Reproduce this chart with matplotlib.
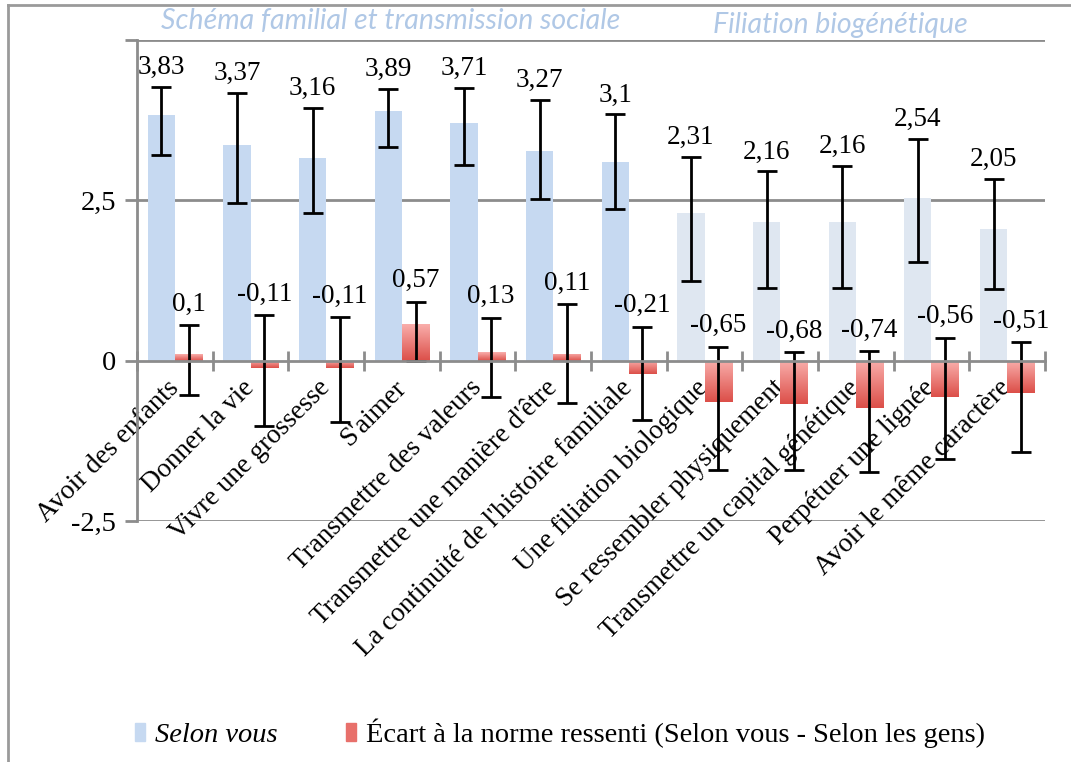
import numpy as np
import matplotlib
matplotlib.use("Agg")
import matplotlib.pyplot as plt
from matplotlib.lines import Line2D
from matplotlib.patches import Patch
from matplotlib.colors import LinearSegmentedColormap

# data
categories = ["Avoir des enfants", "Donner la vie", "Vivre une grossesse", "S'aimer",
              "Transmettre des valeurs", "Transmettre une manière d'être",
              "La continuité de l'histoire familiale", "Une filiation biologique",
              "Se ressembler physiquement", "Transmettre un capital génétique",
              "Perpétuer une lignée", "Avoir le même caractère"]
groups = ["social"] * 7 + ["bio"] * 5

selon_vous = [3.83, 3.37, 3.16, 3.89, 3.71, 3.27, 3.1, 2.31, 2.16, 2.16, 2.54, 2.05]
selon_hi = [4.27, 4.17, 3.94, 4.24, 4.25, 4.06, 3.84, 3.18, 2.95, 3.04, 3.46, 2.84]
selon_lo = [3.21, 2.46, 2.30, 3.33, 3.05, 2.52, 2.37, 1.24, 1.14, 1.14, 1.54, 1.12]

ecart = [0.1, -0.11, -0.11, 0.57, 0.13, 0.11, -0.21, -0.65, -0.68, -0.74, -0.56, -0.51]
ecart_hi = [0.56, 0.71, 0.68, 0.92, 0.67, 0.88, 0.53, 0.22, 0.13, 0.15, 0.36, 0.29]
ecart_lo = [-0.53, -1.02, -0.96, 0.0, -0.56, -0.66, -0.93, -1.71, -1.70, -1.74, -1.54, -1.43]

group_titles = ["Schéma familial et transmission sociale", "Filiation biogénétique"]
legend_labels = ["Selon vous", "Écart à la norme ressenti (Selon vous - Selon les gens)"]

SERIF = "Liberation Serif"
GRID = "#8c8c8c"
BLUE = {"social": "#c6d9f1", "bio": "#dfe7f1"}
RED_TOP, RED_BOT = "#f9aeab", "#dc4f49"
TITLE_COL = "#b0c8e6"

fig = plt.figure(figsize=(10.71, 7.62), dpi=100)
ax = fig.add_axes([0.128, 0.3163, 0.8477, 0.6312])

x = np.arange(len(categories))
w = 0.36

blue_bars = ax.bar(x - w / 2, selon_vous, w, color=[BLUE[g] for g in groups], zorder=2)
red_bars = ax.bar(x + w / 2, ecart, w, color=RED_BOT, zorder=2)

# vertical gradient inside every red bar (light on top, darker below)
cmap = LinearSegmentedColormap.from_list("ecart", [RED_BOT, RED_TOP])
grad = np.linspace(0, 1, 64).reshape(-1, 1)
for b in red_bars:
    x0, y0 = b.get_x(), b.get_y()
    y_lo, y_hi = sorted([y0, y0 + b.get_height()])
    im = ax.imshow(grad, cmap=cmap, aspect="auto", origin="lower",
                   extent=[x0, x0 + b.get_width(), y_lo, y_hi], zorder=2.1)
    im.set_clip_path(b)

# error bars
sv = np.array(selon_vous)
ec = np.array(ecart)
ax.errorbar(x - w / 2, sv, yerr=[sv - np.array(selon_lo), np.array(selon_hi) - sv],
            fmt="none", ecolor="black", elinewidth=2, capsize=7, capthick=2, zorder=3)
ax.errorbar(x + w / 2, ec, yerr=[ec - np.array(ecart_lo), np.array(ecart_hi) - ec],
            fmt="none", ecolor="black", elinewidth=2, capsize=7, capthick=2, zorder=3)

# data labels above the error bars
def fmt(v):
    return f"{v}".replace(".", ",")

for xi, v, top in zip(x - w / 2, selon_vous, selon_hi):
    ax.annotate(fmt(v), (xi, top), xytext=(0, 14), textcoords="offset points",
                ha="center", va="center", fontsize=19.5, family=SERIF, zorder=4)
for xi, v, top in zip(x + w / 2, ecart, ecart_hi):
    ax.annotate(fmt(v), (xi, top), xytext=(0, 15), textcoords="offset points",
                ha="center", va="center", fontsize=19.5, family=SERIF, zorder=4)

# axes styling
ax.set_xlim(-0.5, len(categories) - 0.5)
ax.set_ylim(-2.5, 5)
ax.set_yticks([-2.5, 0, 2.5, 5])
ax.set_yticklabels(["-2,5", "0", "2,5", ""], family=SERIF, fontsize=20.5)
for yg in [-2.5, 2.5, 5]:
    ax.axhline(yg, color=GRID, lw=2, zorder=1)

for s in ["top", "right"]:
    ax.spines[s].set_visible(False)
ax.spines["left"].set_color(GRID)
ax.spines["left"].set_linewidth(2)
ax.spines["bottom"].set_position(("data", 0))
ax.spines["bottom"].set_color(GRID)
ax.spines["bottom"].set_linewidth(2)
ax.spines["bottom"].set_zorder(5)
ax.tick_params(axis="y", direction="out", length=9, width=2, color=GRID, pad=6)

ax.set_xticks(x)
ax.set_xticks(np.arange(len(categories) + 1) - 0.5, minor=True)
ax.set_xticklabels(categories, rotation=45, ha="right", va="center",
                   rotation_mode="anchor", family=SERIF, fontsize=19.5)
ax.tick_params(axis="x", which="major", length=0, pad=17)
ax.tick_params(axis="x", which="minor", direction="inout", length=14, width=2, color=GRID)

# group titles
fig.text(391 / 1071, 1 - 21 / 762, group_titles[0], ha="center", va="center",
         fontsize=20.5, style="italic", family="Lato", color=TITLE_COL)
fig.text(840 / 1071, 1 - 25 / 762, group_titles[1], ha="center", va="center",
         fontsize=20.5, style="italic", family="Lato", color=TITLE_COL)

# outer frame remnants
fig.add_artist(Line2D([8 / 1071, 1], [1 - 5 / 762, 1 - 5 / 762], color="#9a9a9a", lw=2))
fig.add_artist(Line2D([8 / 1071, 8 / 1071], [0, 1 - 5 / 762], color="#9a9a9a", lw=2))

# legend
handles = [Patch(color=BLUE["social"]), Patch(color="#e8706b")]
leg = fig.legend(handles, legend_labels,
                 loc="center left", bbox_to_anchor=(135 / 1071, 1 - 733 / 762), ncol=2,
                 frameon=False, handlelength=0.35, handleheight=0.6, handletextpad=0.35,
                 columnspacing=2.4, borderaxespad=0, borderpad=0,
                 prop={"family": SERIF, "size": 20.5})
leg.get_texts()[0].set_style("italic")

fig.savefig("out.png", dpi=100)
